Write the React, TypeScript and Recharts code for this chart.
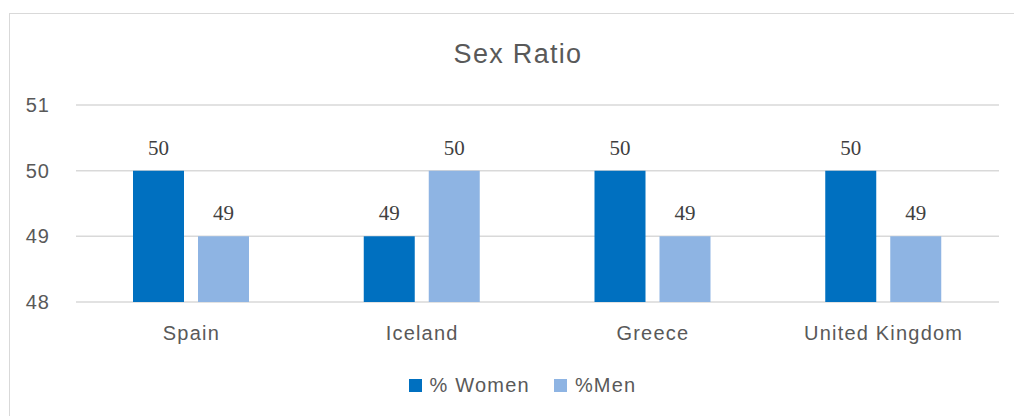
import React from "react";
import {
  BarChart,
  Bar,
  XAxis,
  YAxis,
  CartesianGrid,
  Legend,
  LabelList,
} from "recharts";

const countries = ["Spain", "Iceland", "Greece", "United Kingdom"];
const women = [50, 49, 50, 50];
const men = [49, 50, 49, 49];
const yTicks = [48, 49, 50, 51];

const data = countries.map((name, i) => ({
  name,
  women: women[i],
  men: men[i],
}));

const sans = "'Liberation Sans', Arial, sans-serif";
const grey = "#595959";
const labelStyle = {
  fontFamily: "'Liberation Serif', serif",
  fontSize: 21,
  fill: "#404040",
};

// legend with Excel-like spacing between swatch and text
function renderLegend(props: any) {
  const items = props.payload || [];
  return (
    <div
      style={{
        display: "flex",
        justifyContent: "center",
        alignItems: "center",
        paddingLeft: 36,
        fontFamily: sans,
        fontSize: 20,
        letterSpacing: 1.2,
        color: grey,
      }}
    >
      {items.map((it: any) => (
        <div
          key={it.value}
          style={{ display: "flex", alignItems: "center", margin: "0 12px" }}
        >
          <span
            style={{
              width: 13,
              height: 13,
              background: it.color,
              display: "inline-block",
              marginRight: 8,
            }}
          />
          <span>{it.value}</span>
        </div>
      ))}
    </div>
  );
}

export default function App() {
  return (
    <div
      style={{
        position: "fixed",
        left: 0,
        top: 0,
        width: 1014,
        height: 416,
        overflow: "hidden",
        background: "#fff",
      }}
    >
      <div
        style={{
          position: "absolute",
          left: 9,
          top: 13,
          width: 1010,
          height: 410,
          border: "1px solid #d9d9d9",
          boxSizing: "border-box",
        }}
      >
        <div
          style={{
            position: "absolute",
            left: 0,
            top: 25,
            width: 1016,
            textAlign: "center",
            fontFamily: sans,
            fontSize: 27,
            letterSpacing: 1.3,
            color: grey,
          }}
        >
          Sex Ratio
        </div>
        <BarChart
          width={1010}
          height={402}
          data={data}
          margin={{ top: 91, right: 21, bottom: 19, left: 0 }}
          barCategoryGap="25%"
          barGap={14}
        >
          <CartesianGrid vertical={false} stroke="#d9d9d9" strokeWidth={1.5} />
          <XAxis
            dataKey="name"
            axisLine={false}
            tickLine={false}
            height={72}
            tickMargin={18}
            tick={{ fontSize: 20, fill: grey, fontFamily: sans, letterSpacing: 1.2 }}
          />
          <YAxis
            domain={[48, 51]}
            ticks={yTicks}
            axisLine={false}
            tickLine={false}
            width={66}
            tickMargin={20}
            tick={{ fontSize: 20, fill: grey, fontFamily: sans, letterSpacing: 1 }}
          />
          <Legend verticalAlign="bottom" content={renderLegend} />
          <Bar
            dataKey="women"
            name="% Women"
            fill="#0070C0"
            barSize={51}
            isAnimationActive={false}
          >
            <LabelList dataKey="women" position="top" offset={16} style={labelStyle} />
          </Bar>
          <Bar
            dataKey="men"
            name="%Men"
            fill="#8EB4E3"
            barSize={51}
            isAnimationActive={false}
          >
            <LabelList dataKey="men" position="top" offset={16} style={labelStyle} />
          </Bar>
        </BarChart>
      </div>
    </div>
  );
}
